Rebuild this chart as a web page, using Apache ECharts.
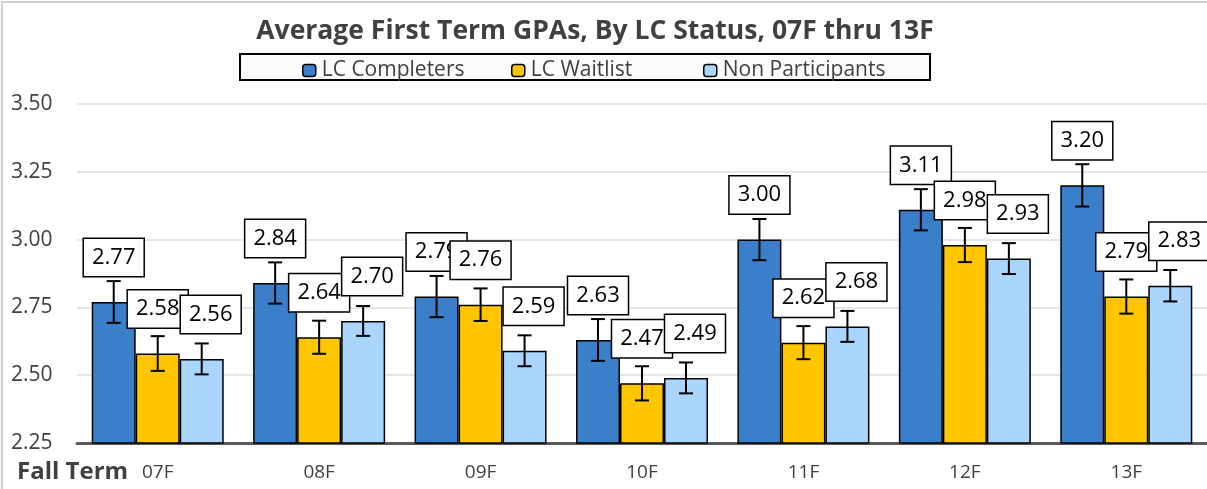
<!DOCTYPE html>
<html><head><meta charset="utf-8">
<script src="https://cdn.jsdelivr.net/npm/echarts@6/dist/echarts.min.js"></script>
<style>html,body{margin:0;padding:0;background:#fff}#c{width:1207px;height:489px}</style>
</head><body><div id="c"></div>
<script>
const categories = ['07F','08F','09F','10F','11F','12F','13F'];
const completers = [2.77, 2.84, 2.79, 2.63, 3.00, 3.11, 3.20];
const waitlist    = [2.58, 2.64, 2.76, 2.47, 2.62, 2.98, 2.79];
const nonPart     = [2.56, 2.70, 2.59, 2.49, 2.68, 2.93, 2.83];
const completersErr = [0.077, 0.076, 0.076, 0.077, 0.076, 0.076, 0.078];
const waitlistErr   = [0.064, 0.061, 0.060, 0.063, 0.061, 0.063, 0.063];
const nonPartErr    = [0.057, 0.055, 0.057, 0.057, 0.057, 0.057, 0.058];
const yTicks = {min: 2.25, max: 3.5, interval: 0.25};

const FONT = '"Open Sans", sans-serif';
const colors = ['#3b7fcb', '#ffc600', '#aad5fd'];
const names = ['LC Completers', 'LC Waitlist', 'Non Participants'];
const vals = [completers, waitlist, nonPart];
const errs = [completersErr, waitlistErr, nonPartErr];
const BAR_W = 44;
const labelShift = [0, 0, 9];
const legendLeft = [302, 511, 703];

const series = [];
vals.forEach((v, i) => {
  series.push({
    name: names[i], type: 'bar', data: v, barWidth: BAR_W, barGap: '0%',
    itemStyle: {color: colors[i], borderColor: '#000', borderWidth: 1.5},
    label: {
      show: true, position: 'top', distance: 26, offset: [labelShift[i], 0],
      formatter: p => p.value.toFixed(2),
      fontFamily: FONT, fontSize: 22, lineHeight: 25, color: '#000',
      backgroundColor: '#fff', borderColor: '#000', borderWidth: 1.5,
      padding: [6, 8, 6, 8]
    },
    z: 2
  });
});
errs.forEach((e, i) => {
  const off = (i - 1) * BAR_W;
  series.push({
    type: 'custom', name: names[i] + ' err', z: 5,
    data: e.map((d, k) => [k, vals[i][k], d]),
    encode: {x: 0, y: 1},
    silent: true,
    renderItem: (params, api) => {
      const k = api.value(0), v = api.value(1), d = api.value(2);
      const top = api.coord([k, v + d]);
      const bot = api.coord([k, v - d]);
      const x = top[0] + off, cap = 7;
      const st = {stroke: '#000', lineWidth: 2};
      return {type: 'group', children: [
        {type: 'line', shape: {x1: x, y1: top[1], x2: x, y2: bot[1]}, style: st},
        {type: 'line', shape: {x1: x - cap, y1: top[1], x2: x + cap, y2: top[1]}, style: st},
        {type: 'line', shape: {x1: x - cap, y1: bot[1], x2: x + cap, y2: bot[1]}, style: st}
      ]};
    }
  });
});

const legends = names.map((n, i) => ({
  data: [n], left: legendLeft[i], top: 60, padding: 0,
  itemWidth: 13, itemHeight: 12,
  itemStyle: {borderColor: '#000', borderWidth: 1.5},
  textStyle: {fontFamily: FONT, fontSize: 21, color: '#404040', padding: [3, 0, 0, 1]}
}));

const chart = echarts.init(document.getElementById('c'), null, {renderer: 'canvas'});
chart.setOption({
  animation: false,
  title: {
    text: 'Average First Term GPAs, By LC Status, 07F thru 13F',
    left: 590, top: 13, textAlign: 'center',
    textStyle: {fontFamily: FONT, fontSize: 26.5, fontWeight: 'bold', color: '#404040'}
  },
  legend: legends,
  graphic: [
    {type: 'rect', shape: {x: 2, y: 2, width: 1300, height: 600}, style: {fill: 'none', stroke: '#d0d0d0', lineWidth: 2}, z: -10},
    {type: 'rect', shape: {x: 240, y: 54, width: 690, height: 26}, style: {fill: '#fbfbfb', stroke: '#000', lineWidth: 2}, z: -5},
    {type: 'text', left: 17, top: 460, style: {text: 'Fall Term', fontFamily: FONT, fontSize: 24, fontWeight: 'bold', fill: '#404040'}}
  ],
  grid: {left: 77, top: 104, width: 1141, height: 339},
  xAxis: {
    type: 'category', data: categories,
    axisLine: {lineStyle: {color: '#595959', width: 3}},
    axisTick: {show: false},
    axisLabel: {fontFamily: FONT, fontSize: 19, color: '#404040', margin: 20}
  },
  yAxis: {
    type: 'value', min: yTicks.min, max: yTicks.max, interval: yTicks.interval,
    axisLine: {show: false}, axisTick: {show: false},
    splitLine: {lineStyle: {color: '#dcdcdc', width: 1.5}},
    axisLabel: {fontFamily: FONT, fontSize: 21, color: '#404040', align: 'left', margin: 66,
      formatter: v => v.toFixed(2)}
  },
  series: series
});
</script></body></html>
